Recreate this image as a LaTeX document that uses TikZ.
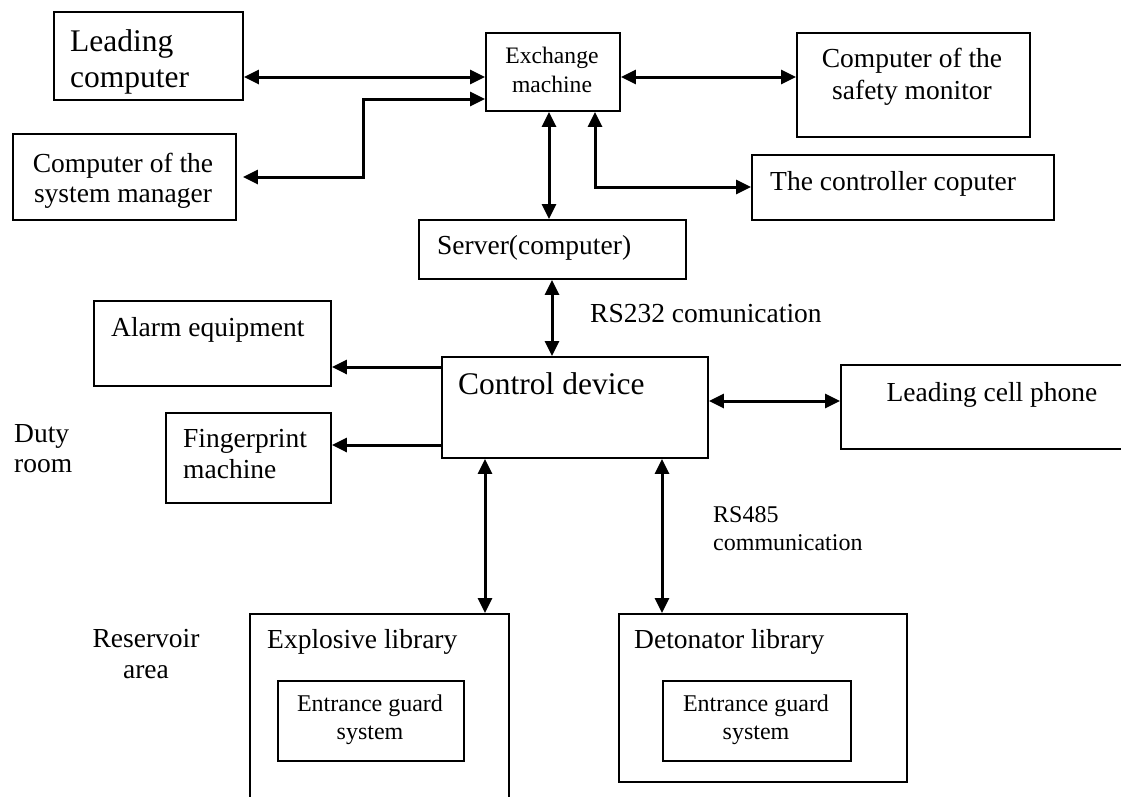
\documentclass[tikz,border=0pt]{standalone}
\usepackage{fontspec}
\setmainfont{Liberation Serif}
\usetikzlibrary{arrows.meta}
\begin{document}
\begin{tikzpicture}[x=1pt,y=-1pt,
  box/.style={draw, line width=1.9pt, inner sep=0pt, anchor=north west},
  lw/.style={inner sep=0pt, anchor=base west},
  lc/.style={inner sep=0pt, anchor=base},
  tip/.tip={Triangle[length=15pt,width=14pt]},
  conn/.style={line width=3pt, -tip},
  bconn/.style={line width=3pt, tip-tip},
  fbig/.style={font=\fontsize{31.5pt}{36pt}\selectfont},
  fmid/.style={font=\fontsize{27.5pt}{31pt}\selectfont},
  fsmall/.style={font=\fontsize{24pt}{28pt}\selectfont}]
\useasboundingbox (0,0) rectangle (1121,796);
\fill[white] (0,0) rectangle (1121,796);

% boxes
\node[box, minimum width=189pt, minimum height=88pt] (lcb) at (53,11) {};
\node[box, minimum width=134pt, minimum height=78pt] (ex) at (485,32) {};
\node[box, minimum width=233pt, minimum height=104pt] (sm) at (796,32) {};
\node[box, minimum width=223pt, minimum height=86pt] (mg) at (12,133) {};
\node[box, minimum width=302pt, minimum height=65pt] (cc) at (751,154) {};
\node[box, minimum width=267pt, minimum height=59pt] (sv) at (418,219) {};
\node[box, minimum width=237pt, minimum height=85pt] (al) at (93,300) {};
\node[box, minimum width=266pt, minimum height=101pt] (cd) at (441,356) {};
\node[box, minimum width=165pt, minimum height=90pt] (fp) at (165,412) {};
\node[box, minimum width=300pt, minimum height=84pt] (cp) at (840,364) {};
\node[box, minimum width=259pt, minimum height=200pt] (el) at (249,613) {};
\node[box, minimum width=288pt, minimum height=168pt] (dl) at (618,613) {};
\node[box, minimum width=186pt, minimum height=80pt] (eg1) at (277,680) {};
\node[box, minimum width=188pt, minimum height=80pt] (eg2) at (662,680) {};

% texts
\node[lw, fbig] (t-lc1) at (70,51) {Leading};
\node[lw, fbig] (t-lc2) at (70,87) {computer};
\node[lc, font=\fontsize{23.6pt}{28pt}\selectfont] (t-ex1) at (552,63) {Exchange};
\node[lc, font=\fontsize{23.6pt}{28pt}\selectfont] (t-ex2) at (552,92) {machine};
\node[lc, fmid] (t-sm1) at (912,67) {Computer of the};
\node[lc, fmid] (t-sm2) at (912,99) {safety monitor};
\node[lc, fmid] (t-mg1) at (123,172) {Computer of the};
\node[lc, fmid] (t-mg2) at (123,202) {system manager};
\node[lw, fmid] (t-cc) at (770,190) {The controller coputer};
\node[lw, fmid] (t-sv) at (437,254) {Server(computer)};
\node[lw, fmid] (t-rs232) at (590,322) {RS232 comunication};
\node[lw, fmid] (t-al) at (111,336) {Alarm equipment};
\node[lw, fbig] (t-cd) at (458,394) {Control device};
\node[lc, fmid] (t-cp) at (992,401) {Leading cell phone};
\node[lw, fmid] (t-du1) at (14,442) {Duty};
\node[lw, fmid] (t-du2) at (14,472) {room};
\node[lw, fmid] (t-fp1) at (183,447) {Fingerprint};
\node[lw, fmid] (t-fp2) at (183,478) {machine};
\node[lw, fsmall] (t-rs1) at (713,522) {RS485};
\node[lw, fsmall] (t-rs2) at (713,550) {communication};
\node[lc, fmid] (t-re1) at (146,647) {Reservoir};
\node[lc, fmid] (t-re2) at (146,678) {area};
\node[lw, fmid] (t-el) at (267,648) {Explosive library};
\node[lw, fmid] (t-dl) at (634,648) {Detonator library};
\node[lc, fsmall] (t-eg11) at (370,711) {Entrance guard};
\node[lc, fsmall] (t-eg12) at (370,739) {system};
\node[lc, fsmall] (t-eg21) at (756,711) {Entrance guard};
\node[lc, fsmall] (t-eg22) at (756,739) {system};

% connectors
\coordinate (bend) at (363,99);
\draw[bconn] (lcb.east |- 0,77) -- (ex.west |- 0,77);
\draw[bconn] ([xshift=6pt]mg.east |- 0,177) -| (bend) -- (ex.west |- bend);
\draw[bconn] (ex.east |- 0,77) -- (sm.west |- 0,77);
\draw[bconn] (ex.south -| 595,0) |- (cc.west |- 0,187);
\draw[bconn] (ex.south -| 549,0) -- (sv.north -| 549,0);
\draw[bconn] (sv.south -| 552,0) -- (cd.north -| 552,0);
\draw[conn] (cd.west |- 0,367) -- (al.east |- 0,367);
\draw[conn] (cd.west |- 0,445) -- (fp.east |- 0,445);
\draw[bconn] (cd.east |- 0,401) -- (cp.west |- 0,401);
\draw[bconn] (cd.south -| 485,0) -- (el.north -| 485,0);
\draw[bconn] (cd.south -| 662,0) -- (dl.north -| 662,0);
\end{tikzpicture}
\end{document}
